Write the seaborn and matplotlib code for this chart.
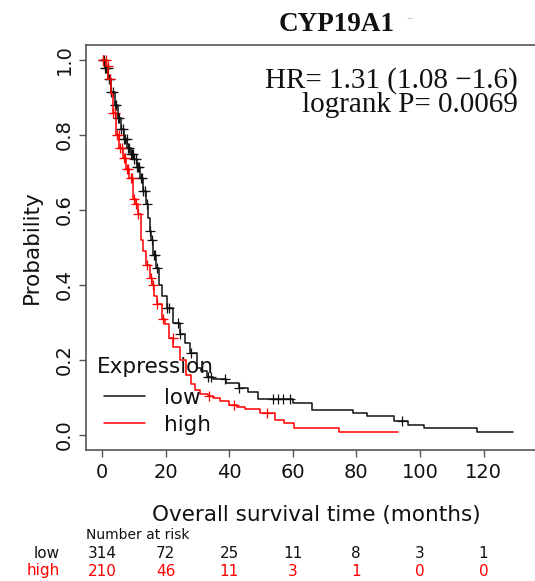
import matplotlib
matplotlib.use("Agg")
import matplotlib.pyplot as plt
import numpy as np
import pandas as pd
import seaborn as sns

# Kaplan-Meier step values (time in months, survival after step)
low_time = [0, 1, 2, 3, 4, 5, 6, 7, 8, 9, 10, 11, 12, 13, 14, 14.5, 15, 15.5, 16, 17,
            18, 19, 20.5, 22.5, 24.5, 26, 27.7, 29.8, 31.3, 33, 35, 39, 43, 46, 49,
            60, 66, 79, 83.5, 91.7, 96.3, 101.4, 117.8, 129.4]
low_surv = [1.0, 0.98, 0.95, 0.915, 0.88, 0.845, 0.815, 0.79, 0.765, 0.75, 0.735, 0.715,
            0.685, 0.65, 0.615, 0.58, 0.545, 0.52, 0.48, 0.445, 0.40, 0.37, 0.34, 0.30,
            0.27, 0.245, 0.218, 0.18, 0.172, 0.155, 0.15, 0.14, 0.125, 0.114, 0.097,
            0.085, 0.068, 0.06, 0.051, 0.038, 0.028, 0.018, 0.008, 0.008]

high_time = [0, 1.3, 2, 2.8, 3.5, 4.4, 5.5, 6.5, 7.5, 8.6, 9.8, 10.7, 11.4, 12.3, 13, 14,
             15, 15.6, 16.5, 17.4, 19, 19.8, 21, 22.4, 24.5, 26.6, 28, 29.2, 31, 33.4,
             35, 37, 40, 42.4, 45, 49.8, 54.4, 57.4, 60.5, 74.5, 93]
high_surv = [1.0, 0.985, 0.95, 0.91, 0.86, 0.80, 0.765, 0.74, 0.71, 0.685, 0.63, 0.615,
             0.59, 0.52, 0.49, 0.453, 0.42, 0.40, 0.37, 0.35, 0.31, 0.295, 0.26, 0.235,
             0.20, 0.16, 0.135, 0.12, 0.11, 0.105, 0.10, 0.09, 0.08, 0.075, 0.07, 0.058,
             0.04, 0.031, 0.02, 0.009, 0.009]

low_censor = [0.3, 0.6, 1.0, 1.4, 1.8, 2.2, 2.6, 3.0, 3.5, 4.0, 4.5, 5.0, 5.5, 6.0, 6.5,
              7.0, 7.4, 7.8, 8.2, 8.6, 9.0, 9.4, 9.8, 10.2, 10.6, 11.0, 11.4, 11.8, 12.2,
              12.6, 13.0, 13.5, 14.2, 15.2, 15.8, 16.3, 16.8, 17.3, 20.5, 21.0, 23.8,
              24.5, 28.0, 33.5, 34.2, 38.8, 43.0, 53.9, 55.5, 57.0, 59.0, 94.3]
high_censor = [0.5, 1.2, 1.8, 2.5, 3.5, 4.2, 4.8, 5.3, 5.8, 6.3, 6.8, 7.3, 7.8, 8.3, 9.0,
               9.5, 10.2, 10.8, 11.5, 14.3, 15.3, 16.2, 17.4, 19.3, 22.3, 33.8, 41.5, 51.8]

risk_times = [0, 20, 40, 60, 80, 100, 120]
risk_low = [314, 72, 25, 11, 8, 3, 1]
risk_high = [210, 46, 11, 3, 1, 0, 0]

groups = ["low", "high"]
colors = {"low": "#111111", "high": "#ff0000"}

sns.set_style("white")
plt.rcParams["font.family"] = ["DejaVu Sans"]
plt.rcParams["text.color"] = "#111111"


def step_value(times, surv, t):
    i = np.searchsorted(times, t, side="right") - 1
    return np.asarray(surv)[i]


curves = pd.concat([
    pd.DataFrame({"time": low_time, "surv": low_surv, "Expression": "low"}),
    pd.DataFrame({"time": high_time, "surv": high_surv, "Expression": "high"}),
])
marks = pd.concat([
    pd.DataFrame({"time": low_censor,
                  "surv": [step_value(low_time, low_surv, t) for t in low_censor],
                  "Expression": "low"}),
    pd.DataFrame({"time": high_censor,
                  "surv": [step_value(high_time, high_surv, t) for t in high_censor],
                  "Expression": "high"}),
])

W, H = 535, 581
fig = plt.figure(figsize=(W / 100, H / 100), dpi=100)
xlo, xhi = -5.0, 140.0
ylo, yhi = -0.04, 1.04
ax = fig.add_axes([86 / W, (H - 450) / H, (xhi - xlo) * 3.18 / W, 405 / H])

for g in groups:
    d = curves[curves["Expression"] == g]
    sns.lineplot(data=d, x="time", y="surv", drawstyle="steps-post", color=colors[g],
                 lw=1.1, sort=False, estimator=None, label=g, ax=ax)
    m = marks[marks["Expression"] == g]
    sns.scatterplot(data=m, x="time", y="surv", marker="+", s=55, color=colors[g],
                    linewidth=0.9, ax=ax, legend=False)

ax.set_xlim(xlo, xhi)
ax.set_ylim(ylo, yhi)
ax.set_xticks(risk_times)
ax.set_yticks([0, 0.2, 0.4, 0.6, 0.8, 1.0])
ax.set_yticklabels(["0.0", "0.2", "0.4", "0.6", "0.8", "1.0"], rotation=90, va="center")
ax.tick_params(axis="both", direction="out", length=5, width=1, color="#555555",
               labelsize=14, pad=4, left=True, bottom=True, labelcolor="#111111")
for s in ax.spines.values():
    s.set_color("#555555")
    s.set_linewidth(1.2)
ax.spines["right"].set_visible(False)
ax.set_xlabel("Overall survival time (months)", fontsize=15.5, labelpad=17, color="#111111")
ax.set_ylabel("Probability", fontsize=15.5, labelpad=9, color="#111111")

leg = ax.legend(frameon=False, fontsize=15.5, loc="upper left",
                bbox_to_anchor=(104 / W, 1 - 388 / H),
                bbox_transform=fig.transFigure, borderpad=0, borderaxespad=0,
                handlelength=1.9, handletextpad=0.9, labelspacing=0.32)
for line in leg.get_lines():
    line.set_linewidth(1.1)
fig.text(155 / W, 1 - 367 / H, "Expression", ha="center", va="center", fontsize=15.5)

fig.text(337 / W, 1 - 31 / H, "CYP19A1", ha="center", va="baseline",
         family="Liberation Serif", fontweight="bold", fontsize=19.5)
fig.text(410 / W, 1 - 22 / H, "\u2013", ha="center", va="baseline", color="#c8c8c8", fontsize=9)
fig.text(518 / W, 1 - 88 / H, "HR= 1.31 (1.08 \u22121.6)", ha="right", va="baseline",
         family="Liberation Serif", fontsize=21)
fig.text(518 / W, 1 - 112 / H, "logrank P= 0.0069", ha="right", va="baseline",
         family="Liberation Serif", fontsize=21)

# number at risk table
blend = matplotlib.transforms.blended_transform_factory(ax.transData, fig.transFigure)
fig.text(86 / W, 1 - 535 / H, "Number at risk", ha="left", va="center", fontsize=10)
fig.text(60 / W, 1 - 553 / H, "low", ha="right", va="center", fontsize=11)
fig.text(60 / W, 1 - 571 / H, "high", ha="right", va="center", fontsize=11, color="red")
for t, nl, nh in zip(risk_times, risk_low, risk_high):
    ax.text(t, 1 - 553 / H, str(nl), transform=blend, ha="center", va="center", fontsize=11)
    ax.text(t, 1 - 571 / H, str(nh), transform=blend, ha="center", va="center", fontsize=11,
            color="red")

fig.savefig("out.png", dpi=100)
